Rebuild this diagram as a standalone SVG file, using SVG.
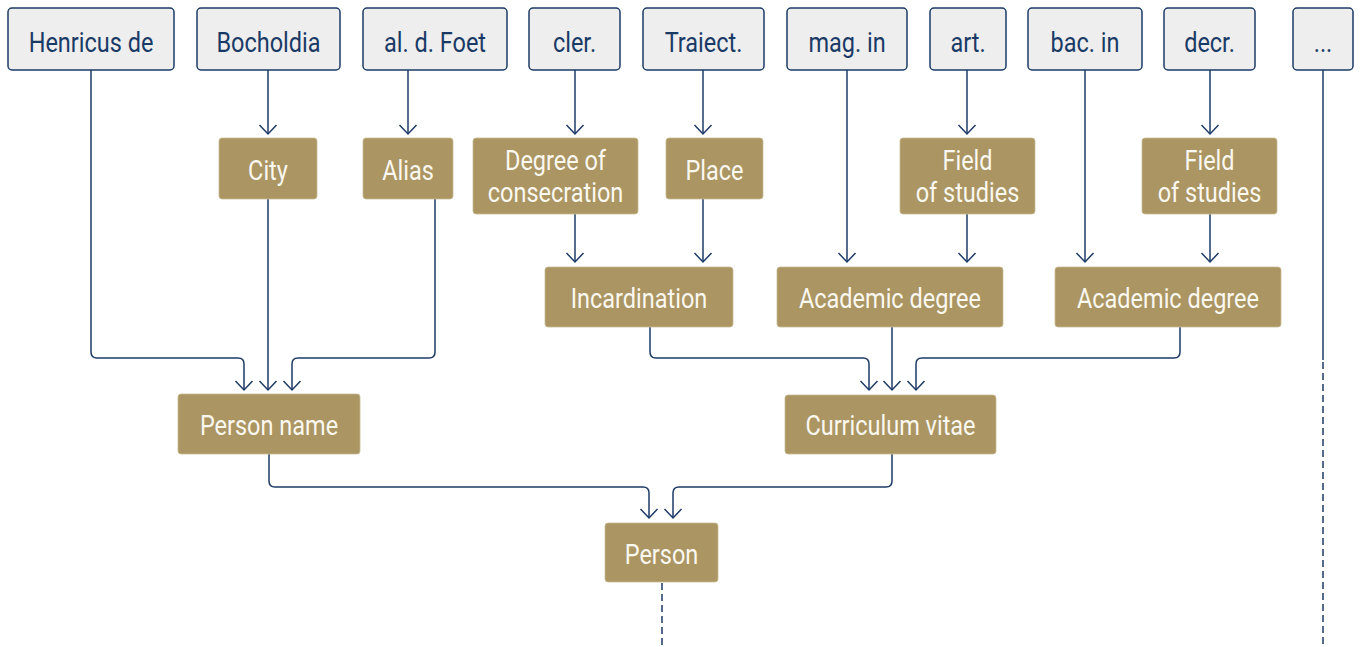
<svg xmlns="http://www.w3.org/2000/svg" width="1365" height="647" viewBox="0 0 1365 647">
<style>
  .src rect { fill: #eeeeee; stroke: #1d3b66; stroke-width: 1.5; }
  .src text { fill: #1a3a66; }
  .ent rect { fill: #aa9563; stroke: #c9bb96; stroke-width: 0.8; }
  .ent text { fill: #fbf8f0; }
  text { font-family: Roboto, "Liberation Sans", sans-serif; font-size: 27px; text-anchor: middle; }
  .c path { fill: none; stroke: #1d3b66; stroke-width: 1.5; }
  .c .a { marker-end: url(#arr); }
  .c .d { stroke-dasharray: 7 4; }
</style>
<defs>
  <marker id="arr" markerUnits="userSpaceOnUse" markerWidth="14" markerHeight="22" viewBox="0 -11 14 22" refX="11" refY="0" orient="auto">
    <path d="M2,-8.5 L11,0 L2,8.5" fill="none" stroke="#1d3b66" stroke-width="1.5"/>
  </marker>
</defs>
<rect width="1365" height="647" fill="#ffffff"/>

<g id="connectors" class="c">
  <path class="a" d="M91,70 V352 Q91,358 97,358 H238 Q244,358 244,364 V390"/>
  <path class="a" d="M268,70 V134"/>
  <path class="a" d="M408,70 V134"/>
  <path class="a" d="M575,70 V134"/>
  <path class="a" d="M703,70 V134"/>
  <path class="a" d="M967,70 V134"/>
  <path class="a" d="M1210,70 V134"/>
  <path class="a" d="M847,70 V262"/>
  <path class="a" d="M1085,70 V262"/>
  <path class="a" d="M575,214 V262"/>
  <path class="a" d="M703,199 V262"/>
  <path class="a" d="M967,214 V262"/>
  <path class="a" d="M1210,214 V262"/>
  <path class="a" d="M268,199 V390"/>
  <path class="a" d="M435,199 V352 Q435,358 429,358 H298 Q292,358 292,364 V390"/>
  <path class="a" d="M650,327 V352 Q650,358 656,358 H863 Q869,358 869,364 V390"/>
  <path class="a" d="M892,327 V390"/>
  <path class="a" d="M1180,327 V352 Q1180,358 1174,358 H922 Q916,358 916,364 V390"/>
  <path class="a" d="M269,454 V481 Q269,487 275,487 H643 Q649,487 649,493 V518"/>
  <path class="a" d="M892,454 V481 Q892,487 886,487 H679 Q673,487 673,493 V518"/>
  <path class="d" d="M662,583 V647"/>
  <path d="M1323,70 V360"/>
  <path class="d" d="M1323,362 V647"/>
</g>

<g id="n-henricus" class="src"><rect x="8" y="8" width="166" height="62" rx="4"/><text transform="translate(91,51.5) scale(0.87,1)">Henricus de</text></g>
<g id="n-bocholdia" class="src"><rect x="197" y="8" width="143" height="62" rx="4"/><text transform="translate(268.5,51.5) scale(0.87,1)">Bocholdia</text></g>
<g id="n-foet" class="src"><rect x="363" y="8" width="144" height="62" rx="4"/><text transform="translate(435,51.5) scale(0.87,1)">al. d. Foet</text></g>
<g id="n-cler" class="src"><rect x="529" y="8" width="91" height="62" rx="4"/><text transform="translate(574.5,51.5) scale(0.87,1)">cler.</text></g>
<g id="n-traiect" class="src"><rect x="643" y="8" width="121" height="62" rx="4"/><text transform="translate(703.5,51.5) scale(0.87,1)">Traiect.</text></g>
<g id="n-mag" class="src"><rect x="787" y="8" width="120" height="62" rx="4"/><text transform="translate(847,51.5) scale(0.87,1)">mag. in</text></g>
<g id="n-art" class="src"><rect x="930" y="8" width="76" height="62" rx="4"/><text transform="translate(968,51.5) scale(0.87,1)">art.</text></g>
<g id="n-bac" class="src"><rect x="1028" y="8" width="114" height="62" rx="4"/><text transform="translate(1085,51.5) scale(0.87,1)">bac. in</text></g>
<g id="n-decr" class="src"><rect x="1164" y="8" width="91" height="62" rx="4"/><text transform="translate(1209.5,51.5) scale(0.87,1)">decr.</text></g>
<g id="n-more" class="src"><rect x="1293" y="8" width="60" height="62" rx="4"/><text transform="translate(1323,51.5) scale(0.87,1)">...</text></g>

<g id="n-city" class="ent"><rect x="219" y="138" width="98" height="61" rx="3"/><text transform="translate(268,180) scale(0.87,1)">City</text></g>
<g id="n-alias" class="ent"><rect x="363" y="138" width="90" height="61" rx="3"/><text transform="translate(408,180) scale(0.87,1)">Alias</text></g>
<g id="n-degree" class="ent"><rect x="473" y="138" width="165" height="76" rx="3"/><text transform="translate(555.5,170) scale(0.87,1)">Degree of</text><text transform="translate(555.5,202) scale(0.87,1)">consecration</text></g>
<g id="n-place" class="ent"><rect x="666" y="138" width="97" height="61" rx="3"/><text transform="translate(714.5,180) scale(0.87,1)">Place</text></g>
<g id="n-field1" class="ent"><rect x="900" y="138" width="135" height="76" rx="3"/><text transform="translate(967.5,170) scale(0.87,1)">Field</text><text transform="translate(967.5,202) scale(0.87,1)">of studies</text></g>
<g id="n-field2" class="ent"><rect x="1142" y="138" width="135" height="76" rx="3"/><text transform="translate(1209.5,170) scale(0.87,1)">Field</text><text transform="translate(1209.5,202) scale(0.87,1)">of studies</text></g>

<g id="n-incard" class="ent"><rect x="545" y="267" width="188" height="60" rx="3"/><text transform="translate(639,308) scale(0.87,1)">Incardination</text></g>
<g id="n-acad1" class="ent"><rect x="777" y="267" width="226" height="60" rx="3"/><text transform="translate(890,308) scale(0.87,1)">Academic degree</text></g>
<g id="n-acad2" class="ent"><rect x="1055" y="267" width="226" height="60" rx="3"/><text transform="translate(1168,308) scale(0.87,1)">Academic degree</text></g>

<g id="n-personname" class="ent"><rect x="178" y="394" width="182" height="60" rx="3"/><text transform="translate(269,435) scale(0.87,1)">Person name</text></g>
<g id="n-cv" class="ent"><rect x="785" y="395" width="211" height="59" rx="3"/><text transform="translate(890.5,435) scale(0.87,1)">Curriculum vitae</text></g>

<g id="n-person" class="ent"><rect x="605" y="523" width="113" height="59" rx="3"/><text transform="translate(661.5,563.5) scale(0.87,1)">Person</text></g>
</svg>
